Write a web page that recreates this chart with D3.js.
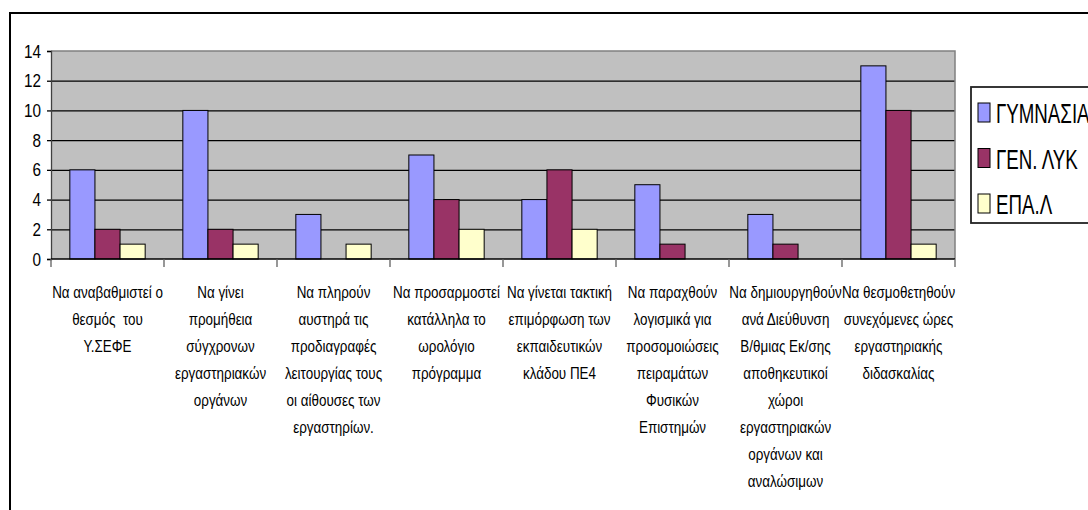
<!DOCTYPE html>
<html>
<head>
<meta charset="utf-8">
<script src="https://cdn.jsdelivr.net/npm/d3@7"></script>
<style>
  body { margin: 0; background: #fff; }
  svg { display: block; font-family: "Liberation Sans", Arial, sans-serif; }
</style>
</head>
<body>
<svg id="chart" width="1088" height="510"></svg>
<script>
// category labels, already broken into lines as in the picture
const categories = [
  ["Να αναβαθμιστεί ο", "θεσμός  του", "Υ.ΣΕΦΕ"],
  ["Να γίνει", "προμήθεια", "σύγχρονων", "εργαστηριακών", "οργάνων"],
  ["Να πληρούν", "αυστηρά τις", "προδιαγραφές", "λειτουργίας τους", "οι αίθουσες των", "εργαστηρίων."],
  ["Να προσαρμοστεί", "κατάλληλα το", "ωρολόγιο", "πρόγραμμα"],
  ["Να γίνεται τακτική", "επιμόρφωση των", "εκπαιδευτικών", "κλάδου ΠΕ4"],
  ["Να παραχθούν", "λογισμικά για", "προσομοιώσεις", "πειραμάτων", "Φυσικών", "Επιστημών"],
  ["Να δημιουργηθούν", "ανά Διεύθυνση", "Β/θμιας Εκ/σης", "αποθηκευτικοί", "χώροι", "εργαστηριακών", "οργάνων και", "αναλώσιμων"],
  ["Να θεσμοθετηθούν", "συνεχόμενες ώρες", "εργαστηριακής", "διδασκαλίας"]
]
const seriesNames = ["ΓΥΜΝΑΣΙΑ", "ΓΕΝ. ΛΥΚ", "ΕΠΑ.Λ"]
const gymnasia = [6, 10, 3, 7, 4, 5, 3, 13]
const genLyk = [2, 2, 0, 4, 6, 1, 1, 10]
const epal = [1, 1, 1, 2, 2, 0, 0, 1]
const yTicks = [0, 2, 4, 6, 8, 10, 12, 14]

const colors = ['#9999FF', '#993366', '#FFFFCC']
const seriesValues = [gymnasia, genLyk, epal]

const svg = d3.select('#chart')

// outer chart frame (runs off the right and bottom of the picture)
svg.append('rect')
  .attr('x', 10).attr('y', 13)
  .attr('width', 1100).attr('height', 520)
  .attr('fill', '#fff')
  .attr('stroke', '#000')
  .attr('stroke-width', 2)

const plotLeft = 51, plotRight = 955, plotTop = 51, plotBottom = 259

const x0 = d3.scaleBand()
  .domain(d3.range(categories.length))
  .range([plotLeft, plotRight])

const x1 = d3.scaleBand()
  .domain(seriesNames)
  .range([0, x0.bandwidth()])
  .paddingInner(0)
  .paddingOuter(0.75)

const y = d3.scaleLinear()
  .domain([0, 14])
  .range([plotBottom, plotTop])

// plot area
svg.append('rect')
  .attr('x', plotLeft).attr('y', plotTop)
  .attr('width', plotRight - plotLeft).attr('height', plotBottom - plotTop)
  .attr('fill', '#C0C0C0')

// gridlines
const grid = svg.append('g')
  .attr('transform', `translate(${plotLeft},0)`)
  .call(d3.axisLeft(y).tickValues(yTicks.filter(d => d > 0 && d < 14)).tickSize(-(plotRight - plotLeft)).tickFormat(''))
grid.select('.domain').remove()
grid.selectAll('line').attr('stroke', '#000').attr('stroke-width', 1.3)

// plot border top / right
svg.append('path')
  .attr('d', `M${plotLeft},${plotTop}H${plotRight}V${plotBottom}`)
  .attr('fill', 'none')
  .attr('stroke', '#808080')
  .attr('stroke-width', 1.5)

// bars
const rows = []
categories.forEach((c, i) => {
  seriesNames.forEach((s, j) => {
    rows.push({ cat: i, series: s, v: seriesValues[j][i], color: colors[j] })
  })
})

svg.append('g').selectAll('rect')
  .data(rows.filter(d => d.v > 0))
  .enter()
  .append('rect')
  .attr('x', d => x0(d.cat) + x1(d.series))
  .attr('y', d => y(d.v))
  .attr('width', x1.bandwidth())
  .attr('height', d => y(0) - y(d.v))
  .attr('fill', d => d.color)
  .attr('stroke', '#000')
  .attr('stroke-width', 1)

// y axis
const yAxisG = svg.append('g')
  .attr('transform', `translate(${plotLeft},0)`)
  .call(d3.axisLeft(y).tickValues(yTicks).tickSize(4).tickPadding(0).tickFormat(d3.format('d')))
yAxisG.select('.domain').attr('stroke', '#404040').attr('stroke-width', 1.3)
yAxisG.selectAll('line').attr('stroke', '#000').attr('stroke-width', 1.3)
yAxisG.selectAll('text')
  .attr('x', null).attr('dy', null)
  .attr('font-size', 18)
  .attr('fill', '#000')
  .attr('transform', 'translate(-10,6) scale(0.85,1)')

// x axis line and category ticks
svg.append('line')
  .attr('x1', plotLeft).attr('x2', plotRight)
  .attr('y1', plotBottom).attr('y2', plotBottom)
  .attr('stroke', '#000').attr('stroke-width', 1.5)

svg.append('g').selectAll('line')
  .data(d3.range(categories.length + 1))
  .enter()
  .append('line')
  .attr('x1', d => plotLeft + d * x0.step())
  .attr('x2', d => plotLeft + d * x0.step())
  .attr('y1', plotBottom).attr('y2', plotBottom + 8)
  .attr('stroke', '#606060').attr('stroke-width', 1.3)

// category labels
const labelG = svg.append('g').selectAll('g')
  .data(categories)
  .enter()
  .append('g')
  .attr('transform', (d, i) => `translate(${x0(i) + x0.bandwidth() / 2},298)`)

labelG.selectAll('text')
  .data(d => d)
  .enter()
  .append('text')
  .attr('transform', (d, i) => `translate(0,${i * 27}) scale(0.79,1)`)
  .attr('text-anchor', 'middle')
  .attr('font-size', 17)
  .attr('fill', '#000')
  .style('white-space', 'pre')
  .text(d => d)

// legend
const legend = svg.append('g')
legend.append('rect')
  .attr('x', 971).attr('y', 87)
  .attr('width', 200).attr('height', 136)
  .attr('fill', '#fff')
  .attr('stroke', '#222')
  .attr('stroke-width', 1.8)

const legendItems = legend.selectAll('g.item')
  .data(seriesNames)
  .enter()
  .append('g')
  .attr('class', 'item')
  .attr('transform', (d, i) => `translate(978,${103 + i * 45.5})`)

legendItems.append('rect')
  .attr('width', 12).attr('height', 19)
  .attr('fill', (d, i) => colors[i])
  .attr('stroke', '#000')
  .attr('stroke-width', 1)

legendItems.append('text')
  .attr('transform', 'translate(18,20) scale(0.72,1.05)')
  .attr('font-size', 26)
  .attr('fill', '#000')
  .text(d => d)
</script>
</body>
</html>
